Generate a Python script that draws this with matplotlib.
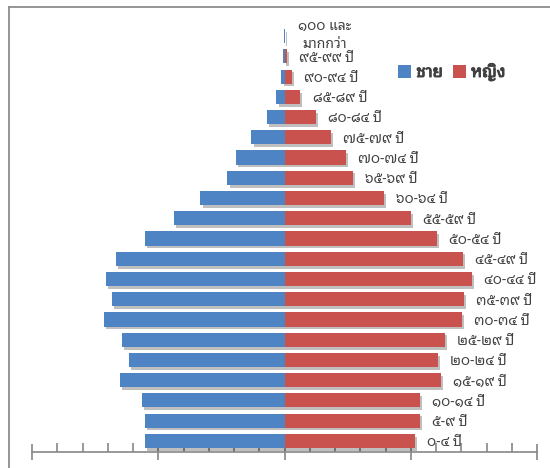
import matplotlib
matplotlib.use("Agg")
import matplotlib.pyplot as plt
from matplotlib import font_manager
from matplotlib.ft2font import FT2Font
from matplotlib.lines import Line2D
from matplotlib.patches import Patch
import matplotlib.patheffects as pe
import numpy as np

# ---------------- data ----------------
age_labels = ["๐-๔ ปี", "๕-๙ ปี", "๑๐-๑๔ ปี", "๑๕-๑๙ ปี", "๒๐-๒๔ ปี", "๒๕-๒๙ ปี",
              "๓๐-๓๔ ปี", "๓๕-๓๙ ปี", "๔๐-๔๔ ปี", "๔๕-๔๙ ปี", "๕๐-๕๔ ปี",
              "๕๕-๕๙ ปี", "๖๐-๖๔ ปี", "๖๕-๖๙ ปี", "๗๐-๗๔ ปี", "๗๕-๗๙ ปี",
              "๘๐-๘๔ ปี", "๘๕-๘๙ ปี", "๙๐-๙๔ ปี", "๙๕-๙๙ ปี", "๑๐๐ และ\nมากกว่า"]
male = [5.52, 5.52, 5.63, 6.51, 6.15, 6.43, 7.14, 6.83, 7.06, 6.67, 5.52,
        4.37, 3.33, 2.26, 1.94, 1.31, 0.71, 0.32, 0.12, 0.04, 0.02]
female = [5.16, 5.36, 5.36, 6.19, 6.07, 6.35, 7.02, 7.10, 7.42, 7.06, 6.03,
          5.00, 3.93, 2.70, 2.42, 1.83, 1.23, 0.63, 0.28, 0.08, 0.03]
legend_labels = ["ชาย", "หญิง"]

# ---------------- font with Thai glyphs ----------------
def find_thai_font():
    cands = []
    for f in font_manager.fontManager.ttflist:
        try:
            cm = FT2Font(f.fname).get_charmap()
        except Exception:
            continue
        if 0x0E1B in cm and 0x0E50 in cm:
            cands.append(f)
    if not cands:
        return None
    pref = ["Tahoma", "Noto Sans Thai", "Loma", "Garuda", "Sarabun", "Norasi", "Kinnari"]
    for p in pref:
        for f in cands:
            if f.name.startswith(p) and f.weight in (400, "normal", "regular"):
                return f.name
    return cands[0].name

thai = find_thai_font()
fam = [thai, "DejaVu Sans"] if thai else ["DejaVu Sans"]
plt.rcParams["font.family"] = fam

blue = "#4F84C4"
red = "#C9514E"
txtc = "#404040"

fig = plt.figure(figsize=(5.5, 4.68), dpi=100)
W, H = 550, 468
ax = fig.add_axes([32 / W, (H - 452) / H, (537 - 32) / W, (452 - 25) / H])

y = np.arange(len(age_labels))
shadow = [pe.SimplePatchShadow(offset=(1.5, -2), shadow_rgbFace="#000000", alpha=0.25),
          pe.Normal()]
bm = ax.barh(y, -np.array(male), height=0.7, color=blue, zorder=2)
bf = ax.barh(y, np.array(female), height=0.7, color=red, zorder=2)
for b in list(bm) + list(bf):
    b.set_path_effects(shadow)

for yi, v, lab in zip(y, female, age_labels):
    multi = "\n" in lab
    ax.annotate(lab, xy=(v, yi), xytext=(9, 0.5 if multi else -2), textcoords="offset points",
                ha="left", va="center", multialignment="center",
                linespacing=1.3 if multi else 1.2,
                fontsize=10, color=txtc)

ax.set_xlim(-10, 10)
ax.set_ylim(-0.55, 20.55)
for s in ["left", "right", "top"]:
    ax.spines[s].set_visible(False)
ax.spines["bottom"].set_color("#868686")
ax.spines["bottom"].set_linewidth(1.2)
ax.set_yticks([])
ax.set_xticks([-10, -5, 0, 5, 10])
ax.set_xticks(np.arange(-10, 11, 1), minor=True)
ax.tick_params(axis="x", which="major", direction="inout", length=12, width=1.2,
               color="#868686", labelbottom=False)
ax.tick_params(axis="x", which="minor", direction="in", length=6.5, width=1.2,
               color="#868686")

handles = [Patch(facecolor=blue), Patch(facecolor=red)]
leg = fig.legend(handles, legend_labels, loc="upper left",
                 bbox_to_anchor=(383 / W, 1 - 48 / H), ncol=2, frameon=False,
                 handlelength=0.8, handleheight=0.8, handletextpad=0.3,
                 columnspacing=0.6, prop={"size": 12, "weight": "bold"})
for t in leg.get_texts():
    t.set_color(txtc)
    t.set_path_effects([pe.withStroke(linewidth=0.7, foreground=txtc)])

# outer chart frame (left and top edges visible)
fig.add_artist(Line2D([8.5 / W, 8.5 / W], [0, 1 - 6.5 / H], color="#8c8c8c", lw=1.3))
fig.add_artist(Line2D([8.5 / W, 1], [1 - 6.5 / H, 1 - 6.5 / H], color="#8c8c8c", lw=1.3))

fig.savefig("out.png", dpi=100)
